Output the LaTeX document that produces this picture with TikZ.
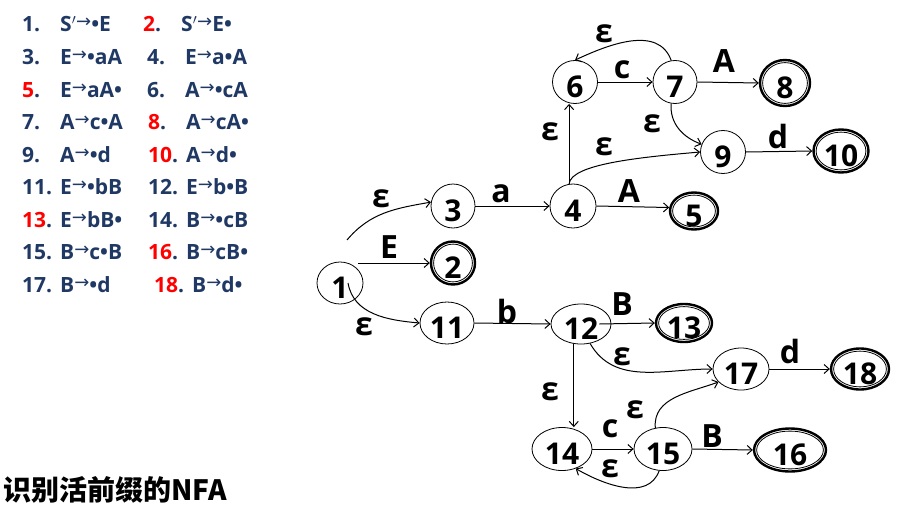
\documentclass[tikz,border=0pt]{standalone}
\usepackage{fontspec}
\setmainfont{Open Sans}
\newfontfamily\cjkfont{Noto Sans CJK SC}
\newfontfamily\symfont{DejaVu Sans}
\usetikzlibrary{shapes.geometric,arrows.meta,calc}

\definecolor{navy}{HTML}{1F3864}

\newcommand*{\prodto}{\raisebox{4pt}{\symfont\mdseries\fontsize{18}{18}\selectfont →}}
\newcommand*{\itdot}{•}
\newcommand*{\redno}[1]{\textcolor{red}{#1}}

\begin{document}
\begin{tikzpicture}[x=1pt, y=1pt,
	>={Straight Barb[length=5pt,width=9pt]},
	nfastate/.style={ellipse, draw, line width=0.8pt, inner sep=0pt,
		font=\fontsize{30}{32}\selectfont\bfseries},
	accept/.style={nfastate, line width=2.4pt,
		path picture={\draw [line width=0.8pt]
			let \p1=(path picture bounding box.north east),
			    \p2=(path picture bounding box.center) in
			(\p2) ellipse [x radius=\x1-\x2-2.6pt, y radius=\y1-\y2-2.6pt];}},
	trans/.style={->, line width=1pt},
	lbl/.style={anchor=base, inner sep=0pt, font=\fontsize{32}{34}\selectfont\bfseries},
	listtxt/.style={anchor=base west, inner sep=0pt, text=navy,
		font=\fontsize{21}{24}\selectfont\bfseries}]

%\statenode[style]{name}{x,y}{width}{height}{text}
\newcommand*{\statenode}[6][nfastate]{%
	\node [#1, minimum width=#4pt, minimum height=#5pt] (#2) at (#3) {\raisebox{-15pt}[0pt][0pt]{#6}};
}

\useasboundingbox (0,0) rectangle (909,-511);

% items
\foreach \id/\x/\y/\num/\rul in {
	1/22/32/1./{S$'$\prodto\itdot E},
	2/143/32/\redno{2}./{S$'$\prodto E\itdot},
	3/22/64.5/3./{E\prodto\itdot aA},
	4/147/64.5/4./{E\prodto a\itdot A},
	5/22/97/\redno{5}./{E\prodto aA\itdot},
	6/147/97/6./{A\prodto\itdot cA},
	7/22/129.5/7./{A\prodto c\itdot A},
	8/148/129.5/\redno{8}./{A\prodto cA\itdot},
	9/22/162/9./{A\prodto\itdot d},
	10/148/162/\redno{10}./{A\prodto d\itdot},
	11/22/194.5/11./{E\prodto\itdot bB},
	12/148/194.5/12./{E\prodto b\itdot B},
	13/22/227/\redno{13}./{E\prodto bB\itdot},
	14/148/227/14./{B\prodto\itdot cB},
	15/22/259.5/15./{B\prodto c\itdot B},
	16/148/259.5/\redno{16}./{B\prodto cB\itdot},
	17/22/292/17./{B\prodto\itdot d},
	18/154/292/\redno{18}./{B\prodto d\itdot}}
{
	\node [listtxt] (num\id) at (\x,-\y) {\num};
	\node [listtxt] (rule\id) at (\x+38,-\y) {\rul};
}

\node [anchor=base west, inner sep=0pt, font=\cjkfont\bfseries\fontsize{28}{30}\selectfont]
	(title) at (3,-500) {识别活前缀的NFA};

% states
\statenode{n1}{340,-283}{46}{42}{1}
\statenode[accept]{n2}{453,-263}{44}{43}{2}
\statenode{n3}{453,-206}{44}{44}{3}
\statenode{n4}{573,-206}{46}{44}{4}
\statenode[accept]{n5}{694,-211}{48}{37}{5}
\statenode{n6}{575,-82}{45}{43}{6}
\statenode{n7}{675,-82}{44}{43}{7}
\statenode[accept]{n8}{785,-83}{50}{46}{8}
\statenode{n9}{723,-152}{45}{43}{9}
\statenode[accept]{n10}{841,-151}{55}{43}{10}
\statenode{n11}{447,-323}{54}{42}{11}
\statenode{n12}{581,-324}{60}{40}{12}
\statenode[accept]{n13}{684,-323}{56}{38}{13}
\statenode{n14}{562,-449}{60}{43}{14}
\statenode{n15}{663,-449}{58}{43}{15}
\statenode[accept]{n16}{790,-450}{72}{43}{16}
\statenode{n17}{741,-369}{56}{42}{17}
\statenode[accept]{n18}{860,-369}{58}{41}{18}

% transitions
\draw [trans] ([xshift=7pt,yshift=43pt]n1.center) to[out=50,in=190] (n3.170);
\draw [trans] ([xshift=18pt,yshift=20pt]n1.center) -- (n2.west);
\draw [trans] ([xshift=8pt]n1.center) to[out=-80,in=175] (n11.west);

\draw [trans] (n3.east) -- (n4.west);
\draw [trans] (n4.100) -- (n4.100 |- n6.south);
\draw [trans] (n4.100) to[out=85,in=185,out distance=20pt,in distance=60pt] (n9.west);
\draw [trans] (n4.east) -- (n5.172);

\draw [trans] (n6.east) -- (n7.west);
\draw [trans] (n7.100) to[out=110,in=25] (n6.north);
\draw [trans] (n7.east) -- (n8.west);
\draw [trans] (n7.260) to[out=-95,in=160] (n9.160);
\draw [trans] (n9.east) -- (n10.west);

\draw [trans] (n11.east) -- (n12.west);
\draw [trans] ([xshift=-12pt]n12.east) -- (n13.west);
\draw [trans] (n12.-65) to[out=-60,in=180] (n17.west);
\draw [trans] (n12.250) -- (n12.250 |- n14.north);

\draw [trans] (n14.east) -- (n15.west);
\draw [trans] (n15.260) to[out=-110,in=-30] (n14.-55);
\draw [trans] (n15.110) to[out=95,in=200] (n17.210);
\draw [trans] (n15.east) -- (n16.west);
\draw [trans] (n17.east) -- (n18.west);

% labels
\node [lbl] (l1to3) at (381,-207) {ε};
\node [lbl] (l1to2) at (389,-258) {E};
\node [lbl] (l1to11) at (364,-335) {ε};
\node [lbl] (l3to4) at (501,-202) {a};
\node [lbl] (l4to6) at (550,-140) {ε};
\node [lbl] (l4to9) at (604,-155) {ε};
\node [lbl] (l4to5) at (629,-202) {A};
\node [lbl] (l6to7) at (622,-78) {c};
\node [lbl] (l7to6) at (604,-43) {ε};
\node [lbl] (l7to8) at (724,-72) {A};
\node [lbl] (l7to9) at (652,-132) {ε};
\node [lbl] (l9to10) at (778,-148) {d};
\node [lbl] (l11to12) at (507,-323) {b};
\node [lbl] (l12to13) at (622,-315) {B};
\node [lbl] (l12to17) at (622,-365) {ε};
\node [lbl] (l12to14) at (550,-400) {ε};
\node [lbl] (l14to15) at (610,-437) {c};
\node [lbl] (l15to14) at (610,-477) {ε};
\node [lbl] (l15to17) at (635,-418) {ε};
\node [lbl] (l15to16) at (712,-447) {B};
\node [lbl] (l17to18) at (790,-363) {d};

\end{tikzpicture}
\end{document}
